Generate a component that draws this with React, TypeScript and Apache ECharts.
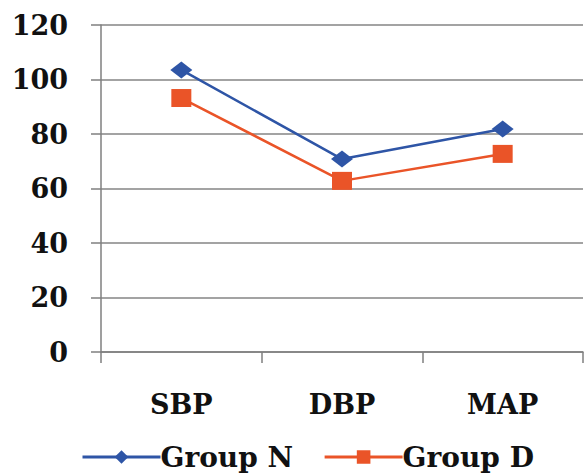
import React, { useEffect, useRef } from "react";
import * as echarts from "echarts";

const categories = ["SBP", "DBP", "MAP"];
const groupN = [103.5, 70.8, 81.8];
const groupD = [93.2, 62.8, 72.7];
const yTicks = { min: 0, max: 120, interval: 20 };

export default function App() {
  const ref = useRef<HTMLDivElement>(null);
  useEffect(() => {
    if (!ref.current) return;
    const chart = echarts.init(ref.current, undefined, { renderer: "svg" });
    const font = "DejaVu Serif";
    const txt = { fontFamily: font, fontWeight: "bold", fontSize: 27, color: "#111" };
    chart.setOption({
      animation: false,
      backgroundColor: "#fff",
      grid: { left: 101, right: 1, top: 25, bottom: 124 },
      legend: {
        bottom: 0,
        left: 76,
        itemWidth: 78,
        itemHeight: 17,
        itemGap: 30,
        lineStyle: { width: 3 },
        textStyle: { ...txt, fontSize: 28, padding: [0, 0, 0, -5] },
        data: ["Group N", "Group D"],
      },
      xAxis: {
        type: "category",
        data: categories,
        axisLine: { lineStyle: { color: "#7f7f7f", width: 1.5 } },
        axisTick: { show: true, length: 11, lineStyle: { color: "#7f7f7f", width: 1.5 } },
        axisLabel: { ...txt, margin: 39 },
      },
      yAxis: {
        type: "value",
        min: yTicks.min,
        max: yTicks.max,
        interval: yTicks.interval,
        axisLine: { show: true, lineStyle: { color: "#7f7f7f", width: 1.5 } },
        axisTick: { show: true, length: 10, lineStyle: { color: "#7f7f7f", width: 1.5 } },
        splitLine: { lineStyle: { color: "#858585", width: 1.5 } },
        axisLabel: { ...txt, margin: 33 },
      },
      series: [
        {
          name: "Group N",
          type: "line",
          data: groupN,
          symbol: "diamond",
          symbolSize: [22, 17],
          lineStyle: { color: "#2E55A6", width: 2.5 },
          itemStyle: { color: "#2E55A6" },
        },
        {
          name: "Group D",
          type: "line",
          data: groupD,
          symbol: "rect",
          symbolSize: [20, 18],
          lineStyle: { color: "#EA5428", width: 2.5 },
          itemStyle: { color: "#EA5428" },
        },
      ],
    });
    return () => chart.dispose();
  }, []);
  return <div ref={ref} style={{ width: 584, height: 476, position: "absolute", left: 0, top: 0 }} />;
}
